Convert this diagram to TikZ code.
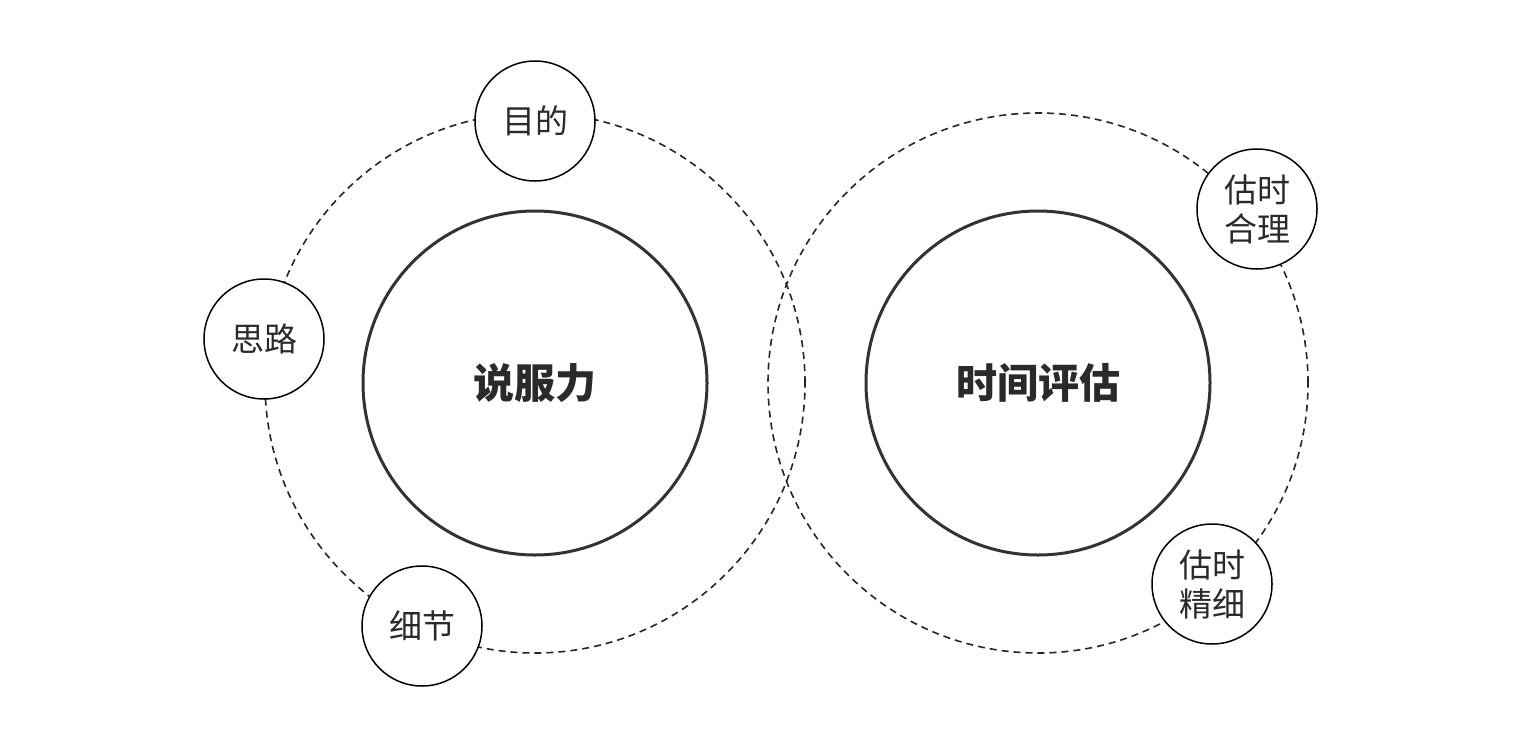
\documentclass[tikz,border=0pt]{standalone}
\usepackage{fontspec}
\setmainfont{Noto Sans CJK SC}
\usetikzlibrary{positioning}
\definecolor{ringGray}{HTML}{333333}
\definecolor{txtGray}{HTML}{2A2A2A}
\tikzset{
  % dashed orbit around each topic
  orbit/.style={circle, draw=black!85, dashed, dash pattern=on 3.5pt off 2.5pt,
    line width=0.8pt, minimum size=270pt, inner sep=0pt},
  % central topic
  topic/.style={circle, draw=ringGray, line width=1.5pt, minimum size=172pt,
    inner sep=0pt, font=\fontsize{20.5pt}{24pt}\selectfont\bfseries, text=txtGray},
  % small satellite on the orbit
  sat/.style={circle, draw=black, fill=white, line width=0.75pt, minimum size=60pt,
    inner sep=0pt, align=center, text=txtGray,
    font=\fontsize{16.5pt}{19.5pt}\selectfont},
}
\begin{document}
\begin{tikzpicture}[x=0.5pt,y=-0.5pt]
  \useasboundingbox[fill=white] (0,0) rectangle (1520,750);

  \node[orbit] (orbL) at (535,383) {};
  \node[orbit] (orbR) at (1038,383) {};

  \node[topic] (shuo) at (535,383) {说服力};
  \node[topic] (shijian) at (1038,383) {时间评估};

  \node[sat] (mudi) at (535,121) {目的};
  \node[sat] (silu) at (264,339) {思路};
  \node[sat] (xijie) at (422,626) {细节};
  \node[sat] (heli) at (1257,209) {估时\\合理};
  \node[sat] (jingxi) at (1212,584) {估时\\精细};
\end{tikzpicture}
\end{document}
